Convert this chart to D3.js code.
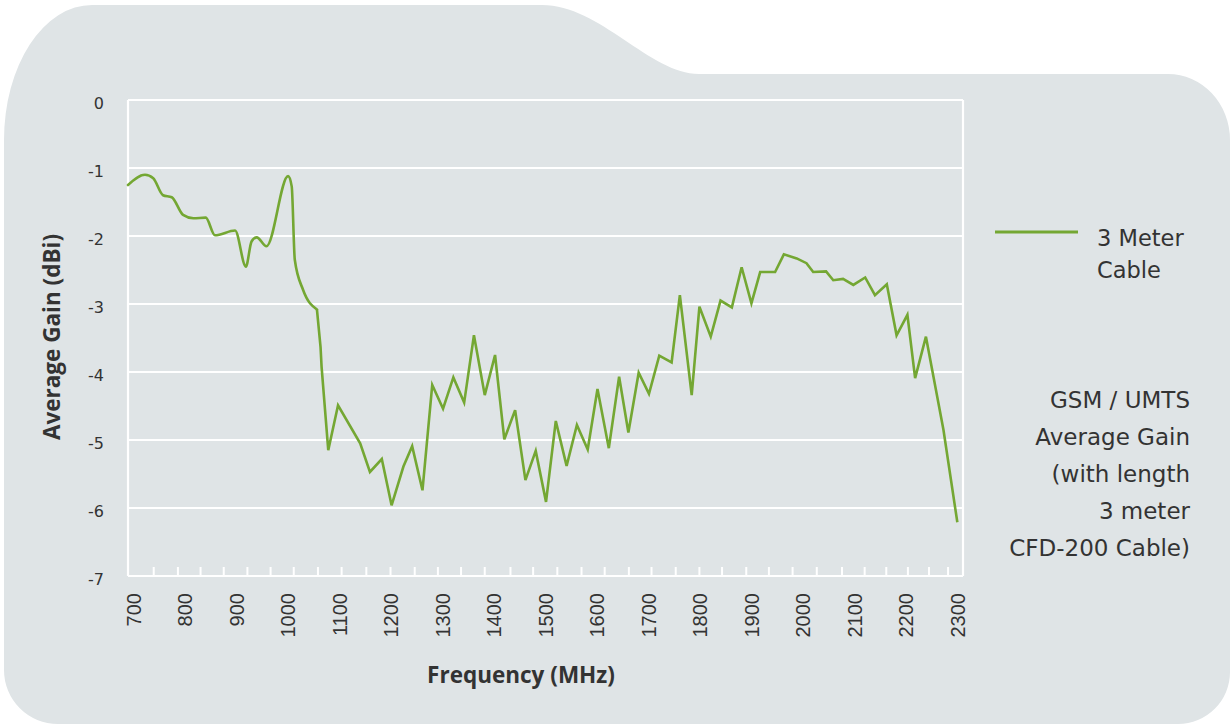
<!DOCTYPE html>
<html>
<head>
<meta charset="utf-8">
<script src="https://cdn.jsdelivr.net/npm/d3@7"></script>
<style>
  html, body { margin: 0; padding: 0; background: #fff; }
  svg { display: block; }
</style>
</head>
<body>
<div id="chart"></div>
<script>
// lead-in of the sweep, this part is drawn as a smooth curve
const smoothFreq = [690, 723, 739, 758, 775, 797, 817, 841, 859, 898, 919, 930, 940, 959, 1001, 1008, 1014, 1030, 1057];
const smoothGain = [-1.25, -1.10, -1.15, -1.40, -1.43, -1.69, -1.74, -1.73, -1.99, -1.92, -2.45, -2.08, -2.02, -2.15, -1.12, -1.27, -2.35, -2.79, -3.08];

// rest of the sweep, straight segments between the samples
const sweepFreq = [1057, 1064, 1066, 1079, 1098, 1141, 1160, 1183, 1202, 1225, 1242, 1262, 1281, 1302, 1322, 1343,
  1362, 1383, 1403, 1421, 1442, 1462, 1482, 1502, 1521, 1542, 1562, 1583, 1602, 1624, 1644, 1662, 1682, 1702,
  1722, 1746, 1762, 1785, 1800, 1822, 1841, 1863, 1882, 1901, 1918, 1947, 1964, 1989, 2008, 2021, 2046, 2060,
  2079, 2099, 2122, 2141, 2164, 2183, 2204, 2219, 2240, 2274, 2301];
const sweepGain = [-3.08, -3.63, -3.92, -5.15, -4.49, -5.05, -5.47, -5.28, -5.96, -5.39, -5.09, -5.74, -4.19, -4.54, -4.08, -4.45,
  -3.46, -4.34, -3.75, -4.99, -4.56, -5.59, -5.16, -5.91, -4.72, -5.38, -4.78, -5.14, -4.25, -5.12, -4.07, -4.89, -4.01, -4.32,
  -3.76, -3.86, -2.87, -4.34, -3.04, -3.48, -2.95, -3.05, -2.46, -2.99, -2.53, -2.53, -2.27, -2.33, -2.40, -2.53, -2.52, -2.65,
  -2.63, -2.72, -2.61, -2.87, -2.71, -3.46, -3.16, -4.09, -3.48, -4.85, -6.21];

const gainTicks = [0, -1, -2, -3, -4, -5, -6, -7];
const freqLabels = [700, 800, 900, 1000, 1100, 1200, 1300, 1400, 1500, 1600, 1700, 1800, 1900, 2000, 2100, 2200, 2300];
const freqMinorTicks = [739, 786, 830, 875, 921, 966, 1011, 1058, 1104, 1152, 1199, 1246, 1291, 1336, 1382, 1432, 1476,
  1523, 1570, 1615, 1662, 1706, 1753, 1799, 1843, 1890, 1934, 1980, 2027, 2076, 2120, 2162, 2204, 2245, 2282];
const freqDomain = [690, 2312];

const legendLines = ["3 Meter", "Cable"];
const noteLines = ["GSM / UMTS", "Average Gain", "(with length", "3 meter", "CFD-200 Cable)"];

const W = 1232, H = 725;
const green = "#74a733";
const card = "#dfe4e6";
const ink = "#333";

const svg = d3.select("#chart").append("svg")
    .attr("width", W)
    .attr("height", H);

// grey card with the folder tab on top
svg.append("path")
    .attr("d", "M4,140 A88,135 0 0 1 92,5 L542,5 C600,5 650,74 699,74 L1168,74 A62,66 0 0 1 1230,140 " +
               "L1230,672 A52,52 0 0 1 1178,724 L58,724 A54,54 0 0 1 4,670 Z")
    .attr("fill", card);

const x = d3.scaleLinear().domain(freqDomain).range([128, 963]);
const y = d3.scaleLinear().domain([0, -7]).range([100, 576]);

// white grid + frame
const g = svg.append("g");
g.selectAll("line.grid")
    .data(gainTicks)
    .enter().append("line")
    .attr("class", "grid")
    .attr("x1", x(freqDomain[0])).attr("x2", x(freqDomain[1]))
    .attr("y1", d => y(d)).attr("y2", d => y(d))
    .attr("stroke", "#fff").attr("stroke-width", 2.2);
g.selectAll("line.side")
    .data(freqDomain)
    .enter().append("line")
    .attr("class", "side")
    .attr("x1", d => x(d)).attr("x2", d => x(d))
    .attr("y1", y(0)).attr("y2", y(-7))
    .attr("stroke", "#fff").attr("stroke-width", 2.2);

// small tick marks on the bottom edge
const minorAxis = svg.append("g")
    .attr("transform", `translate(0,${y(-7)})`)
    .call(d3.axisBottom(x).tickValues(freqMinorTicks).tickSize(-9).tickFormat(""));
minorAxis.select(".domain").remove();
minorAxis.selectAll("line").attr("stroke", "#fff").attr("stroke-width", 2);

// frequency labels, rotated
const xAxis = svg.append("g")
    .attr("transform", `translate(0,${y(-7)})`)
    .call(d3.axisBottom(x).tickValues(freqLabels).tickSize(0).tickFormat(d => d));
xAxis.select(".domain").remove();
xAxis.selectAll("text")
    .attr("transform", "rotate(-90)")
    .attr("x", -17)
    .attr("y", 0)
    .attr("dy", "0.36em")
    .style("text-anchor", "end")
    .style("font-family", "'Liberation Sans Narrow', 'Liberation Sans', sans-serif")
    .style("font-size", "20px")
    .attr("fill", ink);

// gain labels
const yAxis = svg.append("g")
    .attr("transform", "translate(104,3)")
    .call(d3.axisLeft(y).tickValues(gainTicks).tickSize(0).tickPadding(0).tickFormat(d => String(d)));
yAxis.select(".domain").remove();
yAxis.selectAll("text")
    .style("font-family", "'DejaVu Sans', sans-serif")
    .style("font-size", "16px")
    .attr("fill", ink);

// axis titles
svg.append("text")
    .attr("x", 521).attr("y", 683)
    .attr("text-anchor", "middle")
    .style("font-family", "'Open Sans', sans-serif")
    .style("font-weight", "bold")
    .style("font-size", "22.5px")
    .attr("fill", ink)
    .text("Frequency (MHz)");
svg.append("text")
    .attr("transform", "translate(60,337) rotate(-90)")
    .attr("text-anchor", "middle")
    .style("font-family", "'Open Sans', sans-serif")
    .style("font-weight", "bold")
    .style("font-size", "22.5px")
    .attr("fill", ink)
    .text("Average Gain (dBi)");

// the curve
const smoothPts = smoothFreq.map((f, i) => [f, smoothGain[i]]);
const sweepPts = sweepFreq.map((f, i) => [f, sweepGain[i]]);

svg.append("path")
    .datum(smoothPts)
    .attr("fill", "none")
    .attr("stroke", green)
    .attr("stroke-width", 2.6)
    .attr("stroke-linecap", "round")
    .attr("d", d3.line().x(d => x(d[0])).y(d => y(d[1])).curve(d3.curveMonotoneX));
svg.append("path")
    .datum(sweepPts)
    .attr("fill", "none")
    .attr("stroke", green)
    .attr("stroke-width", 2.6)
    .attr("stroke-linejoin", "miter")
    .attr("d", d3.line().x(d => x(d[0])).y(d => y(d[1])));

// legend
svg.append("line")
    .attr("x1", 995).attr("x2", 1078)
    .attr("y1", 232).attr("y2", 232)
    .attr("stroke", green).attr("stroke-width", 3);
svg.selectAll("text.legend")
    .data(legendLines)
    .enter().append("text")
    .attr("class", "legend")
    .attr("x", 1097)
    .attr("y", (d, i) => 246 + i * 32)
    .style("font-family", "'DejaVu Sans', sans-serif")
    .style("font-size", "22.5px")
    .attr("fill", ink)
    .text(d => d);

// note on the right
svg.selectAll("text.note")
    .data(noteLines)
    .enter().append("text")
    .attr("class", "note")
    .attr("x", 1190)
    .attr("y", (d, i) => 408 + i * 37)
    .attr("text-anchor", "end")
    .style("font-family", "'DejaVu Sans', sans-serif")
    .style("font-size", "23px")
    .attr("fill", ink)
    .text(d => d);
</script>
</body>
</html>
